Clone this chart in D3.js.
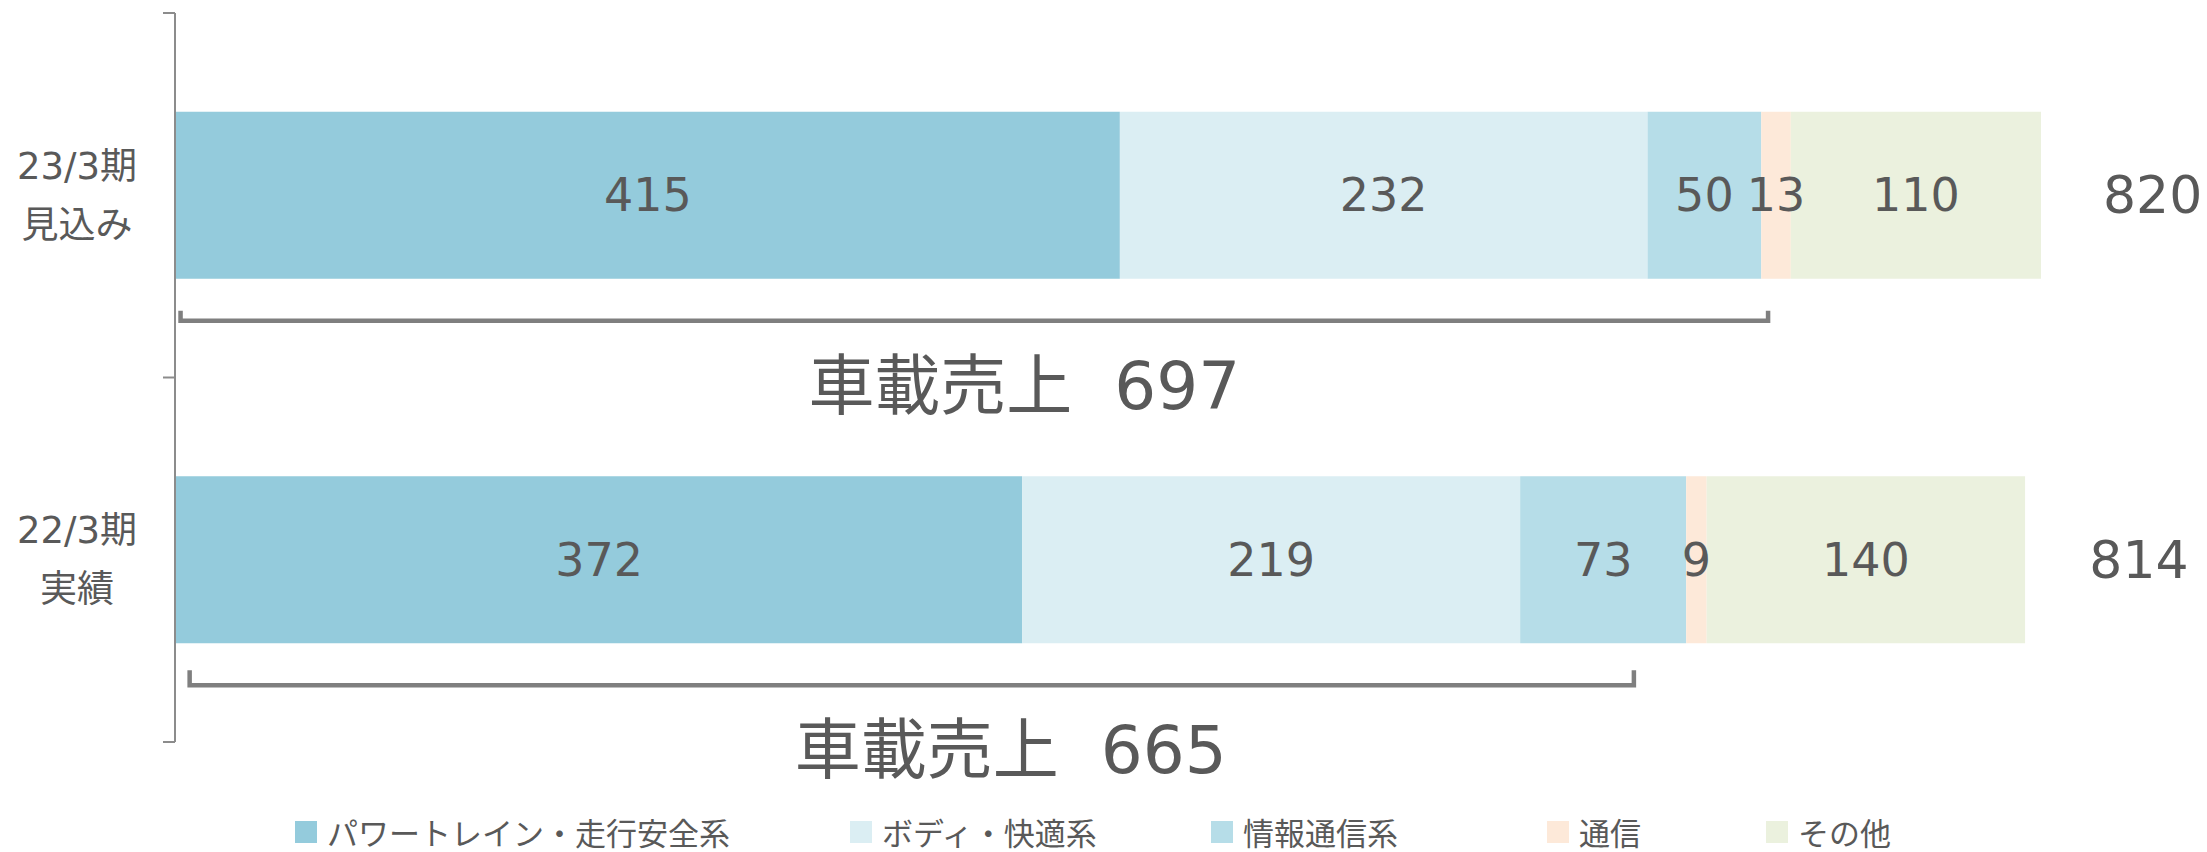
<!DOCTYPE html>
<html>
<head>
<meta charset="utf-8">
<script src="https://cdn.jsdelivr.net/npm/d3@7"></script>
<style>
  html, body { margin: 0; padding: 0; background: #ffffff; }
  svg { display: block; }
  text { font-family: "DejaVu Sans", "Noto Sans CJK JP", sans-serif; fill: #595959; }
</style>
</head>
<body>
<svg id="chart" width="2207" height="852"></svg>
<script>
// ---- data ----
const categories = ["23/3期見込み", "22/3期実績"];
const categoryLine1 = ["23/3期", "22/3期"];
const categoryLine2 = ["見込み", "実績"];
const seriesNames = ["パワートレイン・走行安全系", "ボディ・快適系", "情報通信系", "通信", "その他"];
const powertrain = [415, 372];
const bodyComfort = [232, 219];
const infoComm = [50, 73];
const comm = [13, 9];
const others = [110, 140];
const totals = [820, 814];
const onboardLabels = ["車載売上  697", "車載売上  665"];
const bracketStart = [2, 6];     // value units
const bracketEnd = [700, 641];   // value units
const onboardLabelCenter = [373, 367]; // value units

// ---- styles / layout ----
const colors = ["#94CBDC", "#DBEEF3", "#B6DDE8", "#FDE9D9", "#EBF1DE"];
const barH = 167;
const legendX = [295, 850, 1211, 1547, 1766];

const svg = d3.select("#chart");

const seriesValues = [powertrain, bodyComfort, infoComm, comm, others];
const table = categories.map((c, i) => {
  const row = { cat: c };
  seriesNames.forEach((s, j) => row[s] = seriesValues[j][i]);
  return row;
});
const stacked = d3.stack().keys(seriesNames)(table);
const segments = stacked.flatMap((layer, li) => layer.map(p => ({ p, li })));

const x = d3.scaleLinear().domain([0, 820]).range([176, 2041]);
const y = d3.scaleBand().domain(categories).range([13, 742]).padding(0);
const barTop = c => y(c) + (y.bandwidth() - barH) / 2;

// bars
svg.append("g").selectAll("rect")
  .data(segments).join("rect")
  .attr("x", d => x(d.p[0]))
  .attr("y", d => barTop(d.p.data.cat))
  .attr("width", d => x(d.p[1]) - x(d.p[0]))
  .attr("height", barH)
  .attr("fill", d => colors[d.li]);

// segment labels (drawn above all bars)
svg.append("g").selectAll("text")
  .data(segments).join("text")
  .attr("x", d => (x(d.p[0]) + x(d.p[1])) / 2)
  .attr("y", d => barTop(d.p.data.cat) + barH / 2)
  .attr("text-anchor", "middle")
  .attr("dominant-baseline", "central")
  .attr("font-size", 46)
  .text(d => d.p[1] - d.p[0]);

// total labels
svg.append("g").selectAll("text")
  .data(categories).join("text")
  .attr("x", (c, i) => x(totals[i]) + 62)
  .attr("y", (c, i) => barTop(c) + barH / 2)
  .attr("dominant-baseline", "central")
  .attr("font-size", 52)
  .text((c, i) => totals[i]);

// category axis
const axis = svg.append("g").attr("stroke", "#8c8c8c").attr("stroke-width", 2).attr("fill", "none");
axis.append("line").attr("x1", 175).attr("x2", 175).attr("y1", y.range()[0]).attr("y2", y.range()[1]);
const tickYs = [y(categories[0])].concat(categories.map(c => y(c) + y.bandwidth()));
axis.selectAll("line.tick").data(tickYs).join("line").attr("class", "tick")
  .attr("x1", 163).attr("x2", 175).attr("y1", d => d).attr("y2", d => d);

// category labels
const catG = svg.append("g").selectAll("text").data(categories).join("text")
  .attr("text-anchor", "middle")
  .attr("font-size", 37);
catG.append("tspan").attr("x", 77).attr("y", c => y(c) + y.bandwidth() / 2 - 29)
  .attr("dominant-baseline", "central").text((c, i) => categoryLine1[i]);
catG.append("tspan").attr("x", 77).attr("y", c => y(c) + y.bandwidth() / 2 + 30)
  .attr("dominant-baseline", "central").text((c, i) => categoryLine2[i]);

// brackets
const bracketG = svg.append("g");
categories.forEach((c, i) => {
  const by = barTop(c) + barH + 42;
  const x0 = x(bracketStart[i]), x1 = x(bracketEnd[i]);
  const tick = i === 0 ? 10 : 15;
  bracketG.append("path")
    .attr("d", `M${x0},${by - tick}L${x0},${by}L${x1},${by}L${x1},${by - tick}`)
    .attr("fill", "none").attr("stroke", "#7f7f7f").attr("stroke-width", 4.5);
  bracketG.append("text")
    .attr("x", x(onboardLabelCenter[i]))
    .attr("y", barTop(c) + barH + 130)
    .attr("text-anchor", "middle")
    .attr("font-size", 66)
    .style("white-space", "pre")
    .text(onboardLabels[i]);
});

// legend
const lg = svg.append("g").selectAll("g").data(seriesNames).join("g")
  .attr("transform", (d, i) => `translate(${legendX[i]},832)`);
lg.append("rect").attr("x", 0).attr("y", -11).attr("width", 22).attr("height", 22)
  .attr("fill", (d, i) => colors[i]);
lg.append("text").attr("x", 32).attr("y", 2).attr("dominant-baseline", "central")
  .attr("font-size", 31).text(d => d);
</script>
</body>
</html>
